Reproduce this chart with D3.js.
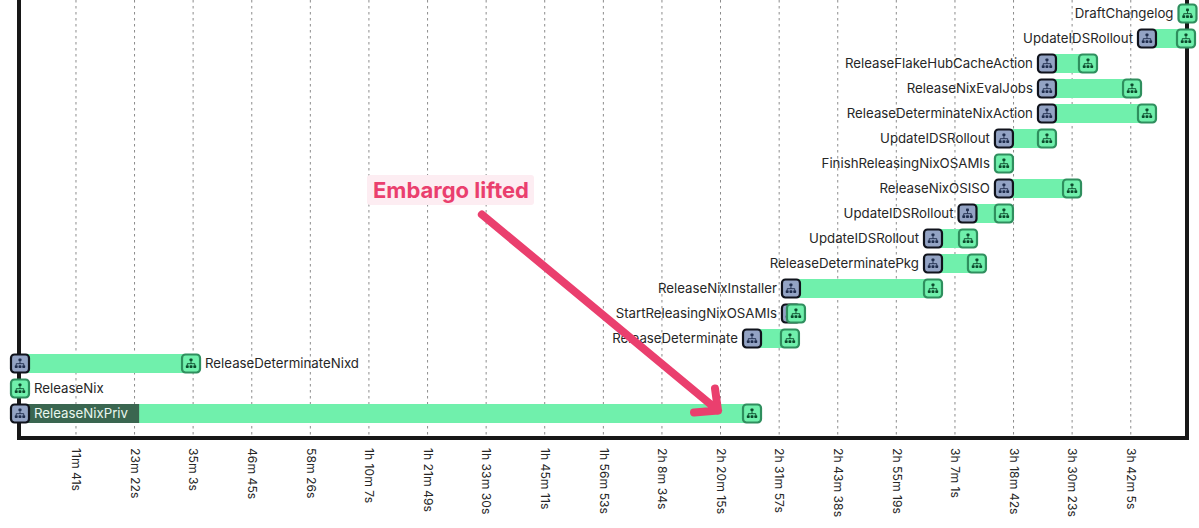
<!DOCTYPE html>
<html>
<head>
<meta charset="utf-8">
<script src="https://cdn.jsdelivr.net/npm/d3@7/dist/d3.min.js"></script>
<style>
html,body{margin:0;padding:0;background:#fff;overflow:hidden}
text{font-family:Inter,"Noto Sans",sans-serif}
</style>
</head>
<body>
<svg id="c" width="1199" height="528"></svg>
<script>
// Rows from bottom to top
const taskNames = ["ReleaseNixPriv","ReleaseNix","ReleaseDeterminateNixd","ReleaseDeterminate","StartReleasingNixOSAMIs","ReleaseNixInstaller","ReleaseDeterminatePkg","UpdateIDSRollout","UpdateIDSRollout","ReleaseNixOSISO","FinishReleasingNixOSAMIs","UpdateIDSRollout","ReleaseDeterminateNixAction","ReleaseNixEvalJobs","ReleaseFlakeHubCacheAction","UpdateIDSRollout","DraftChangelog"];
const startSeconds = [31,31,31,8792,9258,9258,10958,10958,11371,11807,11807,11807,12322,12322,12322,13519,14004];
const endSeconds   = [8792,31,2078,9246,9318,10958,11484,11377,11807,12622,11807,12322,13519,13340,12813,13986,14004];
const labelSide    = ["inside","right","right","left","left","left","left","left","left","left","left","left","left","left","left","left","left"];
const tickSeconds  = [701,1402,2103,2805,3506,4207,4909,5610,6311,7013,7714,8415,9117,9818,10519,11221,11922,12623,13325];
const tickLabels   = ["11m 41s","23m 22s","35m 3s","46m 45s","58m 26s","1h 10m 7s","1h 21m 49s","1h 33m 30s","1h 45m 11s","1h 56m 53s","2h 8m 34s","2h 20m 15s","2h 31m 57s","2h 43m 38s","2h 55m 19s","3h 7m 1s","3h 18m 42s","3h 30m 23s","3h 42m 5s"];
const insideLabelEndSeconds = [1457];
const annotationText = "Embargo lifted";
const arrowSeconds = [5559,8385];
const arrowRows = [7.96,0.12];

const W=1199,H=528, axisY=438;
const svg=d3.select("#c");
const x=d3.scaleLinear().domain([0,14004]).range([17.4,1187.5]);
const y=d3.scaleLinear().domain([0,16]).range([413.5,13.5]);

const defs=svg.append("defs");
const ico=defs.append("symbol").attr("id","tree").attr("viewBox","0 0 12 12").attr("overflow","visible");
ico.append("rect").attr("x",4.4).attr("y",0.6).attr("width",3.2).attr("height",3).attr("rx",0.8).attr("fill","currentColor");
ico.append("path").attr("d","M6 3.5V6.2M1.9 8V6.2H10.1V8").attr("fill","none").attr("stroke","currentColor").attr("stroke-width",1);
[0.3,4.4,8.5].forEach(px=>ico.append("rect").attr("x",px).attr("y",7.8).attr("width",3.2).attr("height",3.2).attr("rx",0.8).attr("fill","currentColor"));

// grid
svg.append("g").selectAll("line").data(tickSeconds).join("line")
  .attr("x1",d=>x(d)).attr("x2",d=>x(d)).attr("y1",0).attr("y2",axisY)
  .attr("stroke","#8c8c8c").attr("stroke-width",1).attr("stroke-dasharray","2.5 3.5");

// spines
svg.append("path").attr("d",`M19,0V${axisY}H1187V0`).attr("fill","none").attr("stroke","#171717").attr("stroke-width",4);

// axis
const axis=d3.axisBottom(x).tickValues(tickSeconds).tickSize(0).tickPadding(0)
  .tickFormat((d,i)=>tickLabels[i]);
const gx=svg.append("g").attr("transform",`translate(0,${axisY})`).call(axis);
gx.select(".domain").remove();
gx.selectAll("text").attr("transform","rotate(90)").attr("x",10).attr("y",0).attr("dy","0.35em")
  .style("text-anchor","start").style("font-size","12.2px").style("font-family","Inter,sans-serif").attr("fill","#262626");

const rows=taskNames.map((n,i)=>({n,i,s:startSeconds[i],e:endSeconds[i],side:labelSide[i]}));
const green="#70f0ac", greenEdge="#2f8f5e", slate="#93a3c4", dark="#111827";

// bars
svg.append("g").selectAll("rect").data(rows.filter(d=>d.e>d.s)).join("rect")
  .attr("x",d=>x(d.s)).attr("width",d=>x(d.e)-x(d.s))
  .attr("y",d=>y(d.i)-9.5).attr("height",19).attr("fill",green);

// dark label background
svg.append("g").selectAll("rect").data(rows.filter(d=>d.side==="inside")).join("rect")
  .attr("x",d=>x(d.s)).attr("width",d=>x(insideLabelEndSeconds[0])-x(d.s))
  .attr("y",d=>y(d.i)-9.5).attr("height",19).attr("fill","#3a6650");

// markers
function marker(g,cx,cy,fill,edge,color,sw){
  g.append("rect").attr("x",cx-9).attr("y",cy-9).attr("width",18).attr("height",18).attr("rx",3.5)
    .attr("fill",fill).attr("stroke",edge).attr("stroke-width",sw);
  g.append("use").attr("href","#tree").attr("x",cx-5.5).attr("y",cy-5.5).attr("width",11).attr("height",11).style("color",color);
}
const mg=svg.append("g");
rows.filter(d=>d.e!==d.s).forEach(d=>marker(mg,x(d.s),y(d.i),slate,"#10131c","#1f2d4d",2.2));
rows.forEach(d=>marker(mg,x(d.e),y(d.i),green,greenEdge,"#0c4a2c",2.2));

// labels
svg.append("g").selectAll("text").data(rows).join("text")
  .attr("x",d=>d.side==="left"?x(d.s)-14:(d.side==="inside"?x(d.s)+14:x(d.e)+14))
  .attr("y",d=>y(d.i)).attr("dy","0.35em")
  .attr("text-anchor",d=>d.side==="left"?"end":"start")
  .attr("font-size",13.25)
  .attr("fill",d=>d.side==="inside"?"#e9f7ef":"#262626")
  .text(d=>d.n);

// annotation
const pink="#ea3f6e";
const ax0=x(arrowSeconds[0]),ay0=y(arrowRows[0]),ax1=x(arrowSeconds[1]),ay1=y(arrowRows[1]);
const ag=svg.append("g");
ag.append("path").attr("d",`M${ax0},${ay0}L${ax1},${ay1}M${ax1-24},${ay1+2}L${ax1},${ay1}L${ax1-3},${ay1-22}`)
  .attr("fill","none").attr("stroke",pink).attr("stroke-width",8).attr("stroke-linecap","round").attr("stroke-linejoin","round");
ag.append("rect").attr("x",367).attr("y",175).attr("width",167).attr("height",30).attr("rx",3).attr("fill","#fdedf2");
ag.append("text").attr("x",373).attr("y",197.5).attr("font-size",22).attr("font-weight",700).attr("fill",pink).text(annotationText);
</script>
</body>
</html>
